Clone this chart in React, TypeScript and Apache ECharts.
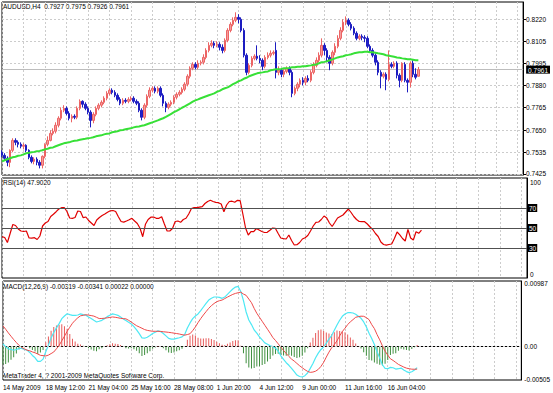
import React, { useEffect, useRef } from "react";
import * as echarts from "echarts";

// ---------- DATA ----------
const TOTAL_SLOTS = 195; // bars that fit in the window (incl. empty right area)
const xTickLabels = [
  "14 May 2009", "18 May 12:00", "21 May 04:00", "25 May 16:00", "28 May 08:00",
  "1 Jun 20:00", "4 Jun 12:00", "9 Jun 00:00", "11 Jun 16:00", "16 Jun 04:00",
];
const priceTicks = [0.7425, 0.7535, 0.765, 0.7765, 0.788, 0.7995, 0.8105, 0.822];
const rsiTicks = [0, 30, 50, 70, 100];
const rsiLevels = [70, 50, 30];
const macdTicks = [-0.00505, 0, 0.00987];

const opens = [
  0.7536, 0.7520, 0.7505, 0.7484, 0.7546, 0.7597, 0.7587, 0.7577, 0.7567, 0.7572,
  0.7546, 0.7510, 0.7489, 0.7500, 0.7484, 0.7469, 0.7515, 0.7577, 0.7597, 0.7633,
  0.7644, 0.7675, 0.7711, 0.7752, 0.7762, 0.7736, 0.7711, 0.7721, 0.7716, 0.7762,
  0.7798, 0.7783, 0.7762, 0.7742, 0.7700, 0.7731, 0.7762, 0.7778, 0.7793, 0.7814,
  0.7839, 0.7855, 0.7844, 0.7829, 0.7808, 0.7788, 0.7803, 0.7798, 0.7808, 0.7814,
  0.7798, 0.7788, 0.7752, 0.7716, 0.7778, 0.7824, 0.7855, 0.7865, 0.7850, 0.7865,
  0.7829, 0.7788, 0.7767, 0.7783, 0.7793, 0.7819, 0.7834, 0.7844, 0.7860, 0.7886,
  0.7927, 0.7968, 0.7988, 0.7973, 0.7994, 0.7999, 0.8024, 0.8060, 0.8086, 0.8097,
  0.8086, 0.8091, 0.8076, 0.8060, 0.8112, 0.8163, 0.8194, 0.8215, 0.8230, 0.8220,
  0.8163, 0.8035, 0.7947, 0.7983, 0.8019, 0.8030, 0.8019, 0.8009, 0.7978, 0.8024,
  0.8035, 0.8045, 0.8060, 0.7947, 0.7958, 0.7937, 0.7952, 0.7968, 0.7947, 0.7839,
  0.7865, 0.7886, 0.7906, 0.7896, 0.7916, 0.7906, 0.7947, 0.7983, 0.8009, 0.8035,
  0.8086, 0.8060, 0.8024, 0.7994, 0.8050, 0.8081, 0.8122, 0.8163, 0.8205, 0.8215,
  0.8194, 0.8174, 0.8148, 0.8122, 0.8133, 0.8127, 0.8122, 0.8081, 0.8060, 0.8035,
  0.7999, 0.7947, 0.7927, 0.7937, 0.7911, 0.7988, 0.7978, 0.7994, 0.7932, 0.7906,
  0.7988, 0.7906, 0.7896, 0.7994, 0.7937, 0.7927,
];
const closes = [
  0.7520, 0.7505, 0.7484, 0.7546, 0.7597, 0.7587, 0.7577, 0.7567, 0.7572, 0.7546,
  0.7510, 0.7489, 0.7500, 0.7484, 0.7469, 0.7515, 0.7577, 0.7597, 0.7633, 0.7644,
  0.7675, 0.7711, 0.7752, 0.7762, 0.7736, 0.7711, 0.7721, 0.7716, 0.7762, 0.7798,
  0.7783, 0.7762, 0.7742, 0.7700, 0.7731, 0.7762, 0.7778, 0.7793, 0.7814, 0.7839,
  0.7855, 0.7844, 0.7829, 0.7808, 0.7788, 0.7803, 0.7798, 0.7808, 0.7814, 0.7798,
  0.7788, 0.7752, 0.7716, 0.7778, 0.7824, 0.7855, 0.7865, 0.7850, 0.7865, 0.7829,
  0.7788, 0.7767, 0.7783, 0.7793, 0.7819, 0.7834, 0.7844, 0.7860, 0.7886, 0.7927,
  0.7968, 0.7988, 0.7973, 0.7994, 0.7999, 0.8024, 0.8060, 0.8086, 0.8097, 0.8086,
  0.8091, 0.8076, 0.8060, 0.8112, 0.8163, 0.8194, 0.8215, 0.8230, 0.8220, 0.8163,
  0.8035, 0.7947, 0.7983, 0.8019, 0.8030, 0.8019, 0.8009, 0.7978, 0.8024, 0.8035,
  0.8045, 0.8050, 0.7947, 0.7958, 0.7937, 0.7952, 0.7968, 0.7947, 0.7839, 0.7865,
  0.7886, 0.7906, 0.7896, 0.7916, 0.7906, 0.7947, 0.7983, 0.8009, 0.8035, 0.8086,
  0.8060, 0.8024, 0.7994, 0.8050, 0.8081, 0.8122, 0.8163, 0.8205, 0.8215, 0.8194,
  0.8174, 0.8148, 0.8122, 0.8133, 0.8127, 0.8122, 0.8081, 0.8060, 0.8035, 0.7999,
  0.7947, 0.7927, 0.7937, 0.7911, 0.7988, 0.7978, 0.7994, 0.7932, 0.7906, 0.7994,
  0.7906, 0.7896, 0.7994, 0.7937, 0.7922, 0.7961,
];
const lows = [
  0.7510, 0.7495, 0.7464, 0.7459, 0.7536, 0.7572, 0.7561, 0.7556, 0.7551, 0.7536,
  0.7500, 0.7479, 0.7474, 0.7469, 0.7453, 0.7453, 0.7505, 0.7567, 0.7592, 0.7623,
  0.7633, 0.7664, 0.7700, 0.7742, 0.7726, 0.7700, 0.7690, 0.7706, 0.7706, 0.7752,
  0.7767, 0.7752, 0.7731, 0.7664, 0.7685, 0.7721, 0.7752, 0.7767, 0.7783, 0.7803,
  0.7829, 0.7834, 0.7819, 0.7798, 0.7778, 0.7778, 0.7788, 0.7788, 0.7798, 0.7788,
  0.7778, 0.7742, 0.7700, 0.7706, 0.7767, 0.7814, 0.7844, 0.7839, 0.7839, 0.7819,
  0.7772, 0.7742, 0.7757, 0.7772, 0.7783, 0.7808, 0.7824, 0.7834, 0.7850, 0.7875,
  0.7916, 0.7958, 0.7963, 0.7963, 0.7983, 0.7988, 0.8014, 0.8050, 0.8076, 0.8071,
  0.8076, 0.8060, 0.8045, 0.8050, 0.8102, 0.8153, 0.8184, 0.8205, 0.8199, 0.8153,
  0.8024, 0.7932, 0.7937, 0.7973, 0.8009, 0.8009, 0.7994, 0.7958, 0.7968, 0.8014,
  0.8024, 0.8035, 0.7916, 0.7932, 0.7922, 0.7922, 0.7942, 0.7932, 0.7819, 0.7829,
  0.7850, 0.7870, 0.7880, 0.7880, 0.7896, 0.7896, 0.7937, 0.7973, 0.7999, 0.8024,
  0.8035, 0.7999, 0.7958, 0.7983, 0.8035, 0.8071, 0.8112, 0.8153, 0.8189, 0.8184,
  0.8163, 0.8138, 0.8112, 0.8112, 0.8112, 0.8102, 0.8071, 0.8050, 0.8024, 0.7983,
  0.7932, 0.7865, 0.7916, 0.7855, 0.7901, 0.7968, 0.7968, 0.7916, 0.7870, 0.7896,
  0.7896, 0.7844, 0.7870, 0.7922, 0.7911, 0.7926,
];
const highs = [
  0.7546, 0.7531, 0.7515, 0.7551, 0.7608, 0.7608, 0.7597, 0.7587, 0.7582, 0.7577,
  0.7551, 0.7520, 0.7510, 0.7510, 0.7495, 0.7520, 0.7582, 0.7618, 0.7649, 0.7659,
  0.7690, 0.7721, 0.7767, 0.7778, 0.7772, 0.7747, 0.7731, 0.7731, 0.7772, 0.7808,
  0.7803, 0.7793, 0.7772, 0.7752, 0.7742, 0.7772, 0.7788, 0.7803, 0.7824, 0.7850,
  0.7865, 0.7865, 0.7855, 0.7839, 0.7819, 0.7814, 0.7814, 0.7819, 0.7824, 0.7824,
  0.7808, 0.7798, 0.7762, 0.7788, 0.7834, 0.7870, 0.7875, 0.7875, 0.7875, 0.7875,
  0.7839, 0.7798, 0.7793, 0.7803, 0.7829, 0.7844, 0.7855, 0.7870, 0.7896, 0.7937,
  0.7978, 0.7999, 0.7999, 0.8009, 0.8009, 0.8040, 0.8071, 0.8102, 0.8112, 0.8107,
  0.8107, 0.8102, 0.8091, 0.8122, 0.8174, 0.8205, 0.8230, 0.8256, 0.8246, 0.8230,
  0.8174, 0.8045, 0.7994, 0.8030, 0.8040, 0.8086, 0.8035, 0.8019, 0.8035, 0.8050,
  0.8060, 0.8060, 0.8102, 0.7978, 0.7968, 0.7963, 0.7978, 0.7978, 0.7958, 0.7875,
  0.7896, 0.7916, 0.7922, 0.7927, 0.7932, 0.7958, 0.7999, 0.8024, 0.8050, 0.8122,
  0.8097, 0.8071, 0.8035, 0.8060, 0.8097, 0.8138, 0.8179, 0.8220, 0.8235, 0.8225,
  0.8205, 0.8184, 0.8158, 0.8143, 0.8143, 0.8138, 0.8133, 0.8091, 0.8071, 0.8045,
  0.8009, 0.7958, 0.7947, 0.7947, 0.8060, 0.7999, 0.8004, 0.8004, 0.7942, 0.7999,
  0.7999, 0.7916, 0.8004, 0.8009, 0.7968, 0.7975,
];
const maValues = [
  0.7489, 0.7495, 0.7500, 0.7505, 0.7510, 0.7513, 0.7518, 0.7520, 0.7525, 0.7531,
  0.7533, 0.7536, 0.7538, 0.7541, 0.7543, 0.7546, 0.7551, 0.7554, 0.7559, 0.7561,
  0.7567, 0.7572, 0.7577, 0.7582, 0.7585, 0.7587, 0.7592, 0.7595, 0.7597, 0.7600,
  0.7603, 0.7605, 0.7608, 0.7610, 0.7613, 0.7618, 0.7621, 0.7623, 0.7628, 0.7631,
  0.7633, 0.7639, 0.7641, 0.7644, 0.7649, 0.7651, 0.7654, 0.7657, 0.7659, 0.7664,
  0.7667, 0.7669, 0.7672, 0.7675, 0.7680, 0.7685, 0.7690, 0.7695, 0.7700, 0.7706,
  0.7711, 0.7718, 0.7726, 0.7734, 0.7742, 0.7749, 0.7757, 0.7765, 0.7772, 0.7780,
  0.7788, 0.7796, 0.7803, 0.7808, 0.7814, 0.7819, 0.7824, 0.7829, 0.7834, 0.7839,
  0.7847, 0.7852, 0.7860, 0.7865, 0.7870, 0.7878, 0.7886, 0.7893, 0.7901, 0.7906,
  0.7914, 0.7919, 0.7927, 0.7932, 0.7937, 0.7942, 0.7945, 0.7947, 0.7950, 0.7952,
  0.7958, 0.7960, 0.7963, 0.7963, 0.7965, 0.7968, 0.7968, 0.7970, 0.7973, 0.7973,
  0.7976, 0.7976, 0.7978, 0.7978, 0.7981, 0.7983, 0.7986, 0.7988, 0.7994, 0.7999,
  0.8001, 0.8004, 0.8009, 0.8014, 0.8019, 0.8024, 0.8027, 0.8030, 0.8035, 0.8037,
  0.8040, 0.8045, 0.8048, 0.8050, 0.8050, 0.8053, 0.8053, 0.8050, 0.8050, 0.8048,
  0.8045, 0.8043, 0.8040, 0.8035, 0.8032, 0.8030, 0.8027, 0.8024, 0.8022, 0.8019,
  0.8017, 0.8014, 0.8014, 0.8012, 0.8009, 0.8009,
];
const rsiValues = [
  41.3, 40.5, 35.5, 44.5, 53.5, 52.5, 49, 47, 46.5, 47,
  40, 39.8, 40.3, 38.5, 42, 52, 55, 56.5, 61.5, 63.7,
  66.3, 69, 70.3, 70.5, 66.5, 60, 59.7, 60.5, 67, 66.5,
  60.3, 61, 57.5, 55, 52.5, 58, 60.5, 62.5, 64, 65.8,
  67.2, 67.5, 66.5, 61.3, 56.5, 55.9, 57, 58.2, 59.7, 57,
  54.5, 49.7, 41.3, 53.7, 58.5, 60.8, 61, 59.7, 59.7, 61.3,
  54, 47, 47, 49.5, 56.5, 57, 55.7, 58.5, 59.7, 64,
  69.5, 70.5, 70.3, 70.8, 71.3, 74.5, 76.5, 77.7, 76.5, 75.7,
  75.3, 74, 66.3, 73, 76.5, 76.8, 75.7, 77.7, 77.3, 64,
  50, 43, 46.3, 46.3, 49.5, 48, 46.5, 45.5, 45.7, 47.8,
  50, 49.7, 44.7, 40, 39.3, 39, 43, 37.5, 33, 33.3,
  35.5, 39, 40.3, 42.5, 47, 52, 55.7, 56, 58.5, 62,
  60, 55, 51.5, 55.7, 60, 61.5, 63, 66, 69, 65.5,
  61.5, 58.5, 56.5, 56.3, 56.3, 54, 51, 48.5, 44.5, 41.5,
  36, 33.5, 32.8, 33.5, 34, 39.5, 46, 43.2, 39.5, 37,
  48.5, 40, 38, 46.3, 44.7, 47.9,
];
const macdMain = [
  0.0004, -0.00005, -0.00035, -0.00045, -0.00056, -0.00045, -0.0003, -0.00028, -0.00045, -0.00055,
  -0.0009, -0.00135, -0.0017, -0.00225, -0.00225, -0.0019, -0.0008, 0.0002, 0.0013, 0.0021,
  0.0028, 0.00345, 0.00419, 0.0046, 0.00494, 0.0048, 0.00468, 0.0047, 0.00475, 0.00492,
  0.0048, 0.00472, 0.00445, 0.00422, 0.00395, 0.00369, 0.0038, 0.00394, 0.0042, 0.0045,
  0.00472, 0.00492, 0.00482, 0.0047, 0.00445, 0.00416, 0.0039, 0.00364, 0.0034, 0.003,
  0.0025, 0.00193, 0.0013, 0.00125, 0.0014, 0.00165, 0.00195, 0.00215, 0.00238, 0.00225,
  0.00195, 0.0016, 0.00122, 0.0011, 0.00112, 0.00122, 0.00132, 0.00145, 0.0018, 0.0028,
  0.00355, 0.0042, 0.0046, 0.0049, 0.0054, 0.00595, 0.0065, 0.007, 0.00728, 0.00746,
  0.00746, 0.0074, 0.00726, 0.00745, 0.00786, 0.00826, 0.00866, 0.00895, 0.00905, 0.0083,
  0.0069, 0.0052, 0.004, 0.0033, 0.0025, 0.002, 0.00143, 0.001, 0.00055, 0.00035,
  0.0001, -0.00002, -0.00025, -0.0007, -0.0014, -0.00195, -0.00245, -0.00283, -0.0033, -0.0038,
  -0.0043, -0.00452, -0.0046, -0.0044, -0.004, -0.0033, -0.00255, -0.0017, -0.001, -0.00045,
  -0.00008, 0.0005, 0.0011, 0.00165, 0.00245, 0.00325, 0.00395, 0.00455, 0.0049, 0.00509,
  0.00509, 0.00505, 0.00485, 0.00455, 0.00425, 0.0037, 0.00294, 0.002, 0.0012, 0.0003,
  -0.0008, -0.00175, -0.00275, -0.0033, -0.00335, -0.00315, -0.0032, -0.0034, -0.00335, -0.00325,
  -0.00355, -0.00378, -0.00394, -0.0038, -0.00355, -0.00319,
];
const macdSignal = [
  0.0031, 0.0026, 0.00205, 0.00155, 0.00105, 0.0006, 0.00017, -0.00015, -0.00035, -0.00055,
  -0.00065, -0.00082, -0.00095, -0.00113, -0.00133, -0.00138, -0.00143, -0.0013, -0.00107, -0.00083,
  -0.00035, 0.00017, 0.00085, 0.00155, 0.00228, 0.0029, 0.0035, 0.00395, 0.00432, 0.00462,
  0.0047, 0.00478, 0.00473, 0.00466, 0.00458, 0.0044, 0.00421, 0.00422, 0.00426, 0.00432,
  0.00438, 0.00445, 0.0044, 0.00433, 0.00424, 0.0042, 0.00417, 0.00395, 0.00368, 0.0034,
  0.00313, 0.00294, 0.00275, 0.00255, 0.00243, 0.00236, 0.00229, 0.00229, 0.00229, 0.00227,
  0.00222, 0.00218, 0.00213, 0.00208, 0.00201, 0.00195, 0.00188, 0.00178, 0.00171, 0.0018,
  0.00192, 0.0024, 0.00294, 0.0036, 0.0042, 0.00475, 0.00525, 0.00575, 0.00615, 0.00648,
  0.00675, 0.0069, 0.007, 0.00722, 0.00744, 0.00765, 0.00785, 0.008, 0.0081, 0.00819,
  0.0079, 0.00771, 0.00715, 0.0066, 0.00575, 0.005, 0.0044, 0.0038, 0.0032, 0.0026,
  0.002, 0.00135, 0.0009, 0.0004, -0.0001, -0.0006, -0.00105, -0.0015, -0.0019, -0.0022,
  -0.00255, -0.0029, -0.0032, -0.0035, -0.00375, -0.0039, -0.00385, -0.00372, -0.00345, -0.003,
  -0.0024, -0.0016, -0.00085, -0.0002, 0.0003, 0.00085, 0.0016, 0.00225, 0.00275, 0.0033,
  0.00372, 0.00405, 0.0044, 0.0045, 0.00457, 0.00455, 0.00435, 0.00405, 0.0033, 0.0027,
  0.0018, 0.001, 0.0001, -0.0007, -0.0013, -0.00185, -0.0021, -0.0024, -0.0027, -0.0029,
  -0.0031, -0.00326, -0.00335, -0.00342, -0.00343, -0.00341,
];

const mainTitle = "AUDUSD,H4  0.7927 0.7975 0.7926 0.7961";
const rsiTitle = "RSI(14) 47.9020";
const macdTitle = "MACD(12,26,9) -0.00319 -0.00341 0.00022 0.00000";
const copyright = "MetaTrader 4, ? 2001-2009 MetaQuotes Software Corp.";

// ---------- STYLE ----------
const FONT = "Liberation Sans, Arial, sans-serif";
const FS = 6.5;
const gridLine = { color: "#cccccc", type: [2, 2] as any, width: 1 };

export default function App() {
  const ref = useRef<HTMLDivElement>(null);

  useEffect(() => {
    if (!ref.current) return;
    const chart = echarts.init(ref.current, undefined, { renderer: "svg" });

    const cats = Array.from({ length: TOTAL_SLOTS }, (_, i) => String(i));
    const candleData = opens.map((o, i) => [o, closes[i], lows[i], highs[i]]);
    const hist = macdMain.map((m, i) => {
      const v = Number((m - macdSignal[i]).toFixed(5));
      return { value: v, itemStyle: { color: v >= 0 ? "#e85a5a" : "#3f8f3f" } };
    });
    const lastClose = closes[closes.length - 1];
    const priceLabelValues = [...priceTicks, lastClose];

    const xBase = (gridIndex: number, labels: boolean) => ({
      type: "category",
      gridIndex,
      data: cats,
      boundaryGap: false,
      axisLine: { show: labels, lineStyle: { color: "#000" } },
      axisTick: { show: false },
      axisLabel: labels
        ? {
            show: true,
            interval: 15,
            align: "left",
            margin: 4,
            color: "#000",
            fontSize: FS,
            fontFamily: FONT,
            formatter: (_v: string, idx: number) => xTickLabels[idx / 16] ?? "",
          }
        : { show: false },
      splitLine: { show: true, interval: 7, lineStyle: gridLine },
    });

    const option: any = {
      animation: false,
      backgroundColor: "#ffffff",
      textStyle: { fontFamily: FONT, fontSize: FS },
      grid: [
        { left: 2, right: 26, top: 2, height: 173, show: true, borderColor: "#000", borderWidth: 1 },
        { left: 2, right: 26, top: 178, height: 100, show: true, borderColor: "#000", borderWidth: 1 },
        { left: 2, right: 26, top: 281, height: 99, show: true, borderColor: "#000", borderWidth: 1 },
      ],
      xAxis: [xBase(0, false), xBase(1, false), xBase(2, true)],
      yAxis: [
        {
          type: "value",
          gridIndex: 0,
          position: "right",
          min: 0.7419,
          max: 0.8309,
          axisLine: { show: true, lineStyle: { color: "#000" } },
          axisTick: { show: true, length: 3, customValues: priceTicks, lineStyle: { color: "#000" } },
          axisLabel: {
            customValues: priceLabelValues,
            hideOverlap: false,
            margin: 3,
            color: "#000",
            fontSize: FS,
            fontFamily: FONT,
            formatter: (v: number) =>
              v === lastClose ? "{tag|" + v.toFixed(4) + "}" : v.toFixed(4),
            rich: {
              tag: {
                backgroundColor: "#000",
                color: "#fff",
                padding: [1, 2, 0, 2],
                fontSize: FS,
                fontFamily: FONT,
              },
            },
          },
          splitLine: { show: true, lineStyle: gridLine },
        },
        {
          type: "value",
          gridIndex: 1,
          position: "right",
          min: 0,
          max: 100,
          axisLine: { show: true, lineStyle: { color: "#000" } },
          axisTick: { show: false, customValues: rsiTicks },
          splitLine: { show: false },
          axisLabel: {
            customValues: rsiTicks,
            margin: 1,
            formatter: (v: number) =>
              v === 100 ? "{a|100}" : v === 0 ? "{b|0}" : "{c|" + v + "}",
            rich: {
              a: { padding: [8, 0, 0, 2], color: "#000", fontSize: FS, fontFamily: FONT },
              b: { padding: [0, 0, 8, 2], color: "#000", fontSize: FS, fontFamily: FONT },
              c: {
                backgroundColor: "#000",
                color: "#fff",
                padding: [1, 1, 0, 1],
                fontSize: FS,
                fontFamily: FONT,
              },
            },
          },
        },
        {
          type: "value",
          gridIndex: 2,
          position: "right",
          min: -0.00505,
          max: 0.00987,
          axisLine: { show: true, lineStyle: { color: "#000" } },
          axisTick: { show: false, customValues: macdTicks },
          splitLine: { show: false },
          axisLabel: {
            customValues: macdTicks,
            margin: 3,
            formatter: (v: number) =>
              v === 0 ? "{m|0.00}" : v > 0 ? "{t|" + v.toFixed(5) + "}" : "{b|" + v.toFixed(5) + "}",
            rich: {
              t: { padding: [4, 0, 0, 0], color: "#000", fontSize: FS, fontFamily: FONT },
              m: { color: "#000", fontSize: FS, fontFamily: FONT },
              b: { padding: [0, 0, 2, 0], color: "#000", fontSize: FS, fontFamily: FONT },
            },
          },
        },
      ],
      graphic: [
        { type: "text", left: 3, top: 3, style: { text: mainTitle, fill: "#000", fontSize: FS, fontFamily: FONT } },
        { type: "text", left: 3, top: 179, style: { text: rsiTitle, fill: "#000", fontSize: FS, fontFamily: FONT } },
        { type: "text", left: 3, top: 283, style: { text: macdTitle, fill: "#000", fontSize: FS, fontFamily: FONT } },
        { type: "text", left: 3, top: 372, style: { text: copyright, fill: "#000", fontSize: FS, fontFamily: FONT } },
      ],
      series: [
        {
          type: "candlestick",
          xAxisIndex: 0,
          yAxisIndex: 0,
          data: candleData,
          barWidth: 2,
          z: 3,
          itemStyle: {
            color: "#f49c9c",
            color0: "#2020cc",
            borderColor: "#ec6464",
            borderColor0: "#1c1cc0",
            borderWidth: 1,
          },
        },
        {
          type: "line",
          xAxisIndex: 0,
          yAxisIndex: 0,
          data: maValues,
          symbol: "none",
          z: 4,
          lineStyle: { color: "#37e037", width: 2 },
          markLine: {
            silent: true,
            precision: 4,
            symbol: ["none", "none"],
            z: 1,
            lineStyle: { color: "#bdbdbd", type: "solid", width: 1 },
            label: { show: false },
            data: [{ yAxis: lastClose }],
          },
        },
        {
          type: "line",
          xAxisIndex: 1,
          yAxisIndex: 1,
          data: rsiValues,
          symbol: "none",
          lineStyle: { color: "#e00000", width: 1.2 },
          markLine: {
            silent: true,
            symbol: ["none", "none"],
            lineStyle: { color: "#505050", type: "solid", width: 1 },
            label: { show: false },
            data: rsiLevels.map((v) => ({ yAxis: v })),
          },
        },
        {
          type: "bar",
          xAxisIndex: 2,
          yAxisIndex: 2,
          data: hist,
          barWidth: 1,
          markLine: {
            silent: true,
            precision: 5,
            symbol: ["none", "none"],
            lineStyle: gridLine,
            label: { show: false },
            data: [{ yAxis: 0 }],
          },
        },
        {
          type: "line",
          xAxisIndex: 2,
          yAxisIndex: 2,
          data: macdMain,
          symbol: "none",
          lineStyle: { color: "#4de8f4", width: 1.2 },
        },
        {
          type: "line",
          xAxisIndex: 2,
          yAxisIndex: 2,
          data: macdSignal,
          symbol: "none",
          lineStyle: { color: "#ee4a4a", width: 1 },
        },
      ],
    };

    chart.setOption(option);
    return () => chart.dispose();
  }, []);

  return (
    <div
      ref={ref}
      style={{ position: "fixed", left: 0, top: 0, width: 553, height: 393, background: "#fff" }}
    />
  );
}
